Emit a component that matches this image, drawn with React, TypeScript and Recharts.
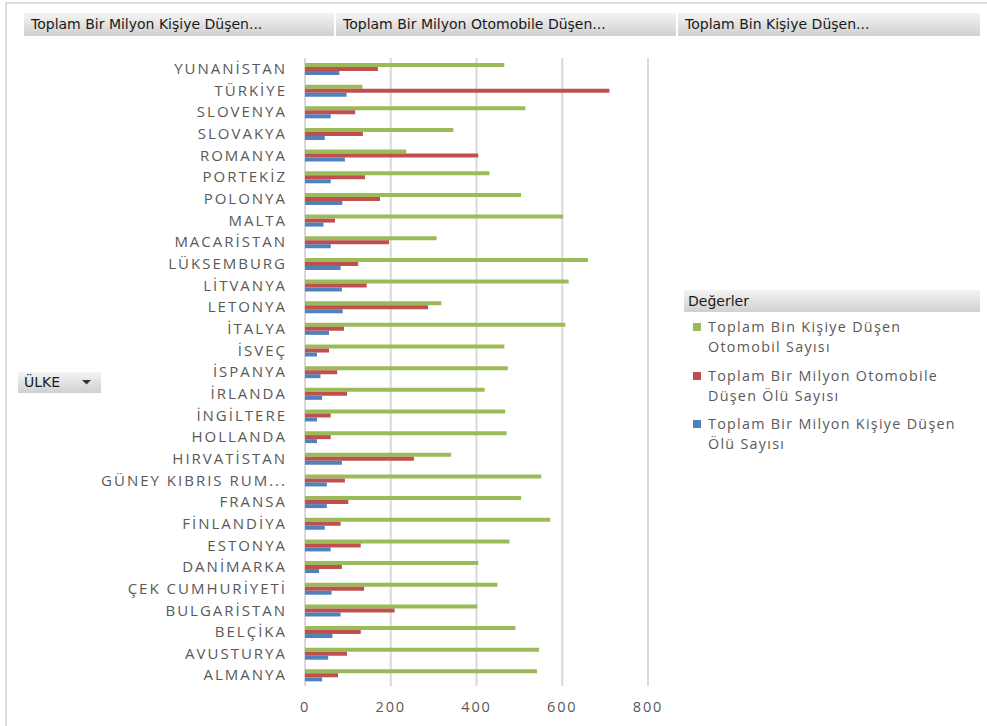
import React from "react";
import { BarChart, Bar, XAxis, YAxis, CartesianGrid } from "recharts";

const countries = [
  "YUNANİSTAN", "TÜRKİYE", "SLOVENYA", "SLOVAKYA", "ROMANYA", "PORTEKİZ", "POLONYA",
  "MALTA", "MACARİSTAN", "LÜKSEMBURG", "LİTVANYA", "LETONYA", "İTALYA", "İSVEÇ",
  "İSPANYA", "İRLANDA", "İNGİLTERE", "HOLLANDA", "HIRVATİSTAN", "GÜNEY KIBRIS RUM...",
  "FRANSA", "FİNLANDİYA", "ESTONYA", "DANİMARKA", "ÇEK CUMHURİYETİ", "BULGARİSTAN",
  "BELÇİKA", "AVUSTURYA", "ALMANYA",
];

// Toplam Bin Kişiye Düşen Otomobil Sayısı
const carsPerThousand = [
  465, 134, 514, 346, 236, 430, 504,
  602, 307, 660, 615, 318, 607, 465,
  473, 419, 467, 470, 341, 551,
  504, 572, 477, 404, 449, 402,
  491, 546, 541,
];

// Toplam Bir Milyon Otomobile Düşen Ölü Sayısı
const deathsPerMillionCars = [
  170, 710, 117, 135, 404, 140, 175,
  70, 196, 124, 144, 287, 91, 56,
  75, 98, 60, 60, 254, 93,
  101, 83, 130, 86, 138, 209,
  130, 98, 77,
];

// Toplam Bir Milyon Kişiye Düşen Ölü Sayısı
const deathsPerMillionPeople = [
  80, 97, 60, 46, 93, 60, 87,
  43, 60, 83, 86, 88, 56, 28,
  36, 40, 28, 28, 86, 51,
  51, 46, 60, 33, 62, 83,
  64, 54, 40,
];

const xTicks = [0, 200, 400, 600, 800];

const seriesNames = [
  "Toplam Bin Kişiye Düşen Otomobil Sayısı",
  "Toplam Bir Milyon Otomobile Düşen Ölü Sayısı",
  "Toplam Bir Milyon Kişiye Düşen Ölü Sayısı",
];
const legendLines = [
  ["Toplam Bin Kişiye Düşen", "Otomobil Sayısı"],
  ["Toplam Bir Milyon Otomobile", "Düşen Ölü Sayısı"],
  ["Toplam Bir Milyon Kişiye Düşen", "Ölü Sayısı"],
];
const colors = ["#9BBB59", "#C0504D", "#4F81BD"];
const headerButtons = [
  "Toplam Bir Milyon Kişiye Düşen...",
  "Toplam Bir Milyon Otomobile Düşen...",
  "Toplam Bin Kişiye Düşen...",
];

const data = countries.map((c, i) => ({
  name: c,
  a: carsPerThousand[i],
  b: deathsPerMillionCars[i],
  c: deathsPerMillionPeople[i],
}));

const btnBg = "linear-gradient(#f4f4f4, #d0d0d0)";
const btnFont = "'DejaVu Sans', sans-serif";
const labelFont = "'Open Sans', sans-serif";

export default function App() {
  const headerPos = [
    { left: 24, width: 310 },
    { left: 336, width: 340 },
    { left: 678, width: 302 },
  ];
  return (
    <div style={{ position: "absolute", left: 0, top: 0, width: 987, height: 726, overflow: "hidden", background: "#fff" }}>
      {/* frame */}
      <div style={{ position: "absolute", left: 5, top: 2, width: 990, height: 730, borderLeft: "2px solid #dcdcdc", borderTop: "2px solid #dcdcdc" }} />
      {headerButtons.map((t, i) => (
        <div key={i} style={{
          position: "absolute", left: headerPos[i].left, top: 13, width: headerPos[i].width, height: 23,
          background: btnBg, fontFamily: btnFont, fontSize: 14, color: "#1a1a1a",
          lineHeight: "23px", paddingLeft: 7, boxSizing: "border-box", whiteSpace: "nowrap",
        }}>{t}</div>
      ))}
      {/* ÜLKE field button */}
      <div style={{
        position: "absolute", left: 18, top: 372, width: 83, height: 21, background: btnBg,
        fontFamily: btnFont, fontSize: 14, color: "#1a1a1a", lineHeight: "21px", paddingLeft: 6, boxSizing: "border-box",
      }}>
        ÜLKE
        <svg style={{ position: "absolute", left: 64, top: 8 }} width="9" height="5">
          <polygon points="0,0 9,0 4.5,4.5" fill="#333" />
        </svg>
      </div>
      {/* Legend */}
      <div style={{
        position: "absolute", left: 684, top: 290, width: 296, height: 22, background: btnBg,
        fontFamily: btnFont, fontSize: 14, color: "#1a1a1a", lineHeight: "22px", paddingLeft: 4, boxSizing: "border-box",
      }}>Değerler</div>
      {legendLines.map((lines, i) => (
        <div key={i} style={{ position: "absolute", left: 693, top: 317 + i * 48.5, fontFamily: labelFont, fontSize: 14.3, color: "#595959", letterSpacing: 1.3, lineHeight: "20px" }}>
          <div style={{ position: "absolute", left: 0, top: 6, width: 8, height: 8, background: colors[i] }} />
          <div style={{ marginLeft: 15, whiteSpace: "nowrap" }} title={seriesNames[i]}>
            <div>{lines[0]}</div>
            <div>{lines[1]}</div>
          </div>
        </div>
      ))}
      <div style={{ position: "absolute", left: 0, top: 0 }}>
        <BarChart
          width={690}
          height={726}
          data={data}
          layout="vertical"
          margin={{ top: 58, right: 42, bottom: 10, left: 0 }}
          barGap={0}
          barSize={4}
        >
          <CartesianGrid horizontal={false} vertical={true} stroke="#d9d9d9" strokeWidth={2} />
          <XAxis
            type="number"
            domain={[0, 800]}
            ticks={xTicks}
            axisLine={false}
            tickLine={false}
            tickSize={0}
            tickMargin={16}
            height={30}
            tick={{ fill: "#595959", fontSize: 14.5, fontFamily: labelFont, letterSpacing: 1.8 }}
          />
          <YAxis
            type="category"
            dataKey="name"
            width={305}
            axisLine={false}
            tickLine={false}
            tickSize={0}
            tickMargin={18}
            interval={0}
            tick={{ fill: "#595959", fontSize: 15, fontFamily: labelFont, letterSpacing: 2 }}
          />
          <Bar dataKey="a" name={seriesNames[0]} fill={colors[0]} isAnimationActive={false} />
          <Bar dataKey="b" name={seriesNames[1]} fill={colors[1]} isAnimationActive={false} />
          <Bar dataKey="c" name={seriesNames[2]} fill={colors[2]} isAnimationActive={false} />
        </BarChart>
      </div>
    </div>
  );
}
